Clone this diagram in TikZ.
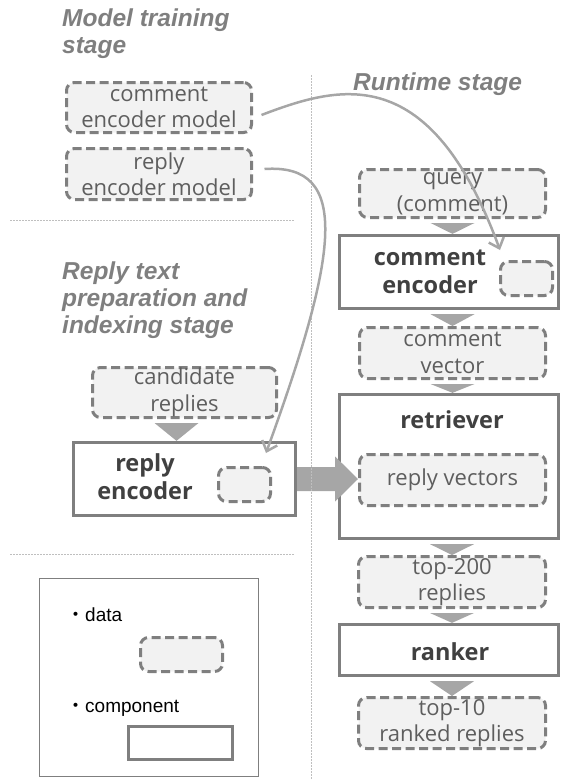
\documentclass[tikz,border=0pt]{standalone}
\usepackage{fontspec}
\setmainfont{Open Sans}
\newfontfamily\titlefont{Liberation Sans}
\newfontfamily\cjk{Noto Sans CJK JP}
\usetikzlibrary{arrows.meta,calc}

\definecolor{edgegray}{HTML}{7F7F7F}
\definecolor{datafill}{HTML}{F2F2F2}
\definecolor{flowgray}{HTML}{A6A6A6}
\definecolor{datatext}{HTML}{5E5E5E}
\definecolor{comptext}{HTML}{404040}
\definecolor{guidegray}{HTML}{BFBFBF}

\begin{document}
\begin{tikzpicture}[x=1pt,y=-1pt,
  wh/.style 2 args={minimum width=#1pt, minimum height=#2pt},
  databox/.style={draw=edgegray, fill=datafill, line width=3pt,
    dash pattern=on 9pt off 4.5pt, rounded corners=8pt, inner sep=0pt,
    align=center, text=datatext, font=\fontsize{22}{26.5}\selectfont},
  compbox/.style={draw=edgegray, fill=white, line width=3.3pt, inner sep=0pt},
  complabel/.style={inner sep=0pt, align=center, text=comptext,
    font=\bfseries\fontsize{23.5}{28}\selectfont},
  stagetitle/.style={inner sep=0pt, align=left, text=edgegray,
    font=\titlefont\bfseries\itshape\fontsize{24.5}{27}\selectfont},
  legendtext/.style={inner sep=0pt, anchor=base west, text=black,
    font=\titlefont\fontsize{19}{23}\selectfont},
  guide/.style={draw=guidegray, line width=1pt, dash pattern=on 1.5pt off 1.5pt},
  flowtri/.style={fill=flowgray},
  curve/.style={draw=flowgray, line width=2.5pt, -{Straight Barb[length=9pt,width=16pt]}}
]
\useasboundingbox (0,0) rectangle (563,780);

% stage titles
\node[stagetitle, anchor=north west] (ttrain) at (62,8.5) {Model training\\stage};
\node[stagetitle, anchor=north west] (tprep) at (62,262) {Reply text\\preparation and\\indexing stage};
\node[stagetitle, anchor=base west] (truntime) at (353,90) {Runtime stage};

% model training stage
\node[databox, wh={185}{50}] (cem) at (159,107.5) {comment\\encoder model};
\node[databox, wh={185}{51}] (rem) at (159,174) {reply\\encoder model};

% reply text preparation and indexing stage
\node[databox, wh={184}{50}] (cand) at (184.5,392.5) {candidate\\replies};
\node[compbox, wh={222}{73}] (re) at (184.5,479) {};
\node[complabel] (retext) at (145,477) {reply\\encoder};
\node[databox, wh={52}{34}] (rein) at (244.5,484.5) {};

% runtime stage
\node[databox, wh={186}{48}] (query) at (452.5,193.5) {query\\(comment)};
\node[compbox, wh={219}{73}] (ce) at (449,272) {};
\node[complabel] (cetext) at (430,272) {comment\\encoder};
\node[databox, wh={52}{34}] (cein) at (526.5,278.5) {};
\node[databox, wh={186}{51}] (cvec) at (452.5,353) {comment\\vector};
\node[compbox, wh={219}{144}] (retr) at (449,466.5) {};
\node[complabel] (retrtext) at (452,420) {retriever};
\node[databox, wh={186}{51}] (rvec) at (452.5,480) {reply vectors};
\node[databox, wh={187}{51}] (top200) at (452,582) {top-200\\replies};
\node[compbox, wh={219}{51}] (rank) at (449,650) {};
\node[complabel] (ranktext) at (450,652) {ranker};
\node[databox, wh={187}{51}] (top10) at (452,723) {top-10\\ranked replies};

% flow triangles between consecutive boxes
\foreach \a/\b/\c/\dx in {query/ce/query/0, ce/cvec/cvec/0, cvec/retr/cvec/0,
    retr/top200/top200/0, top200/rank/top200/0, rank/top10/top10/0, cand/re/cand/-8}
  \fill[flowtri] ($(\c.center |- \a.south)+({\dx-22},4)$)
    -- ($(\c.center |- \a.south)+({\dx+22},4)$)
    -- ($(\c.center |- \b.north)+(\dx,0)$) -- cycle;

% indexed reply vectors go into the retriever
\fill[flowtri] ($(re.east)+(0,-12)$) -- ($(re.east)+(38,-12)$)
  -- ($(re.east)+(38,-22.5)$) -- (rvec.west |- re.east)
  -- ($(re.east)+(38,22.5)$) -- ($(re.east)+(38,12)$)
  -- ($(re.east)+(0,12)$) -- cycle;

% legend
\node[draw=edgegray, line width=1.3pt, inner sep=0pt, wh={219}{198}] (legend) at (149,677.5) {};
\node[legendtext] (ldata) at (66,621) {{\cjk ・}data};
\node[databox, wh={82}{34}] (ldatabox) at (181.5,654.5) {};
\node[legendtext] (lcomp) at (66,712) {{\cjk ・}component};
\node[compbox, wh={104}{33}] (lcompbox) at (180.5,743) {};

% stage separators
\draw[guide] (10,220) -- (295,220);
\draw[guide] (10,554) -- (295,554);
\draw[guide] (311,75) -- (311,780);

% trained models are loaded into the encoders
\coordinate (cemtail) at ($(cem.east)+(8.5,7.5)$);
\coordinate (cetip) at (500,250);
\coordinate (remtail) at ($(rem.east)+(11.5,-5)$);
\coordinate (retip) at (266,453);
\draw[curve] (cemtail) .. controls (340,85) and (430,60) .. (cetip);
\draw[curve] (remtail) .. controls (352,163) and (338,255) .. (retip);
\end{tikzpicture}
\end{document}
